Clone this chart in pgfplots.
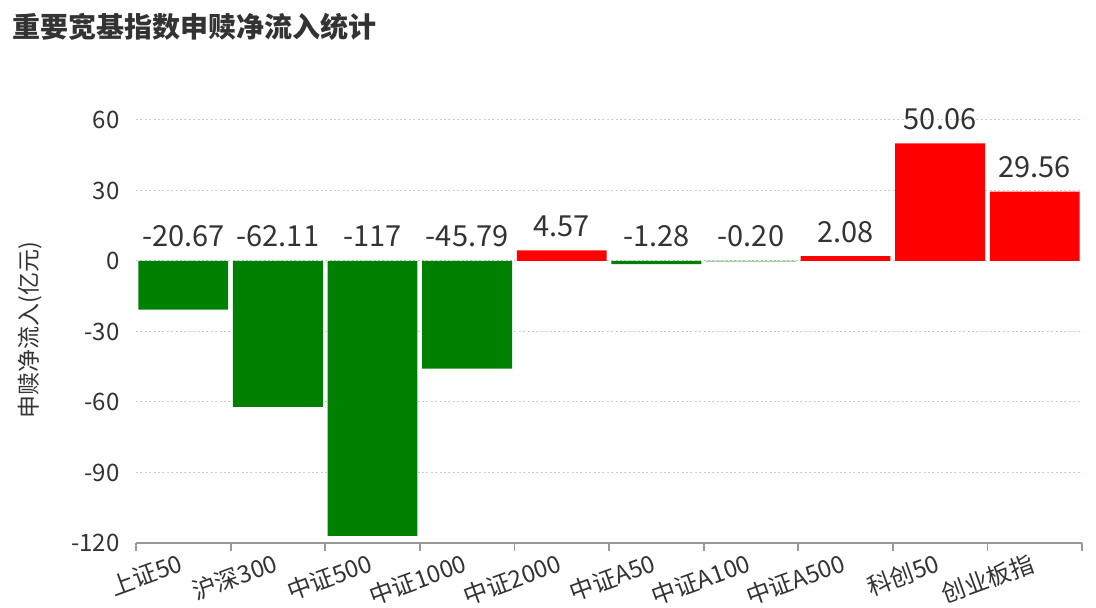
\documentclass[border=0pt]{standalone}
\usepackage{pgfplots}
\pgfplotsset{compat=1.18}
\usepackage{pgfplotstable}
\usepackage{fontspec}
\setmainfont{Noto Sans CJK SC}
\definecolor{txt}{HTML}{333333}
\definecolor{axgray}{HTML}{999999}
\definecolor{gridgray}{HTML}{CCCCCC}
\definecolor{barg}{HTML}{008000}
\definecolor{barr}{HTML}{FF0000}

\pgfplotstableread{
x pos lab
0 0 -20.67
1 0 -62.11
2 0 -117
3 0 -45.79
4 4.57 4.57
5 0 -1.28
6 0 -0.20
7 2.08 2.08
8 50.06 50.06
9 29.56 29.56
}\labels

\begin{document}
\begin{tikzpicture}
\useasboundingbox (-68pt,-32.5pt) rectangle (480pt,271.5pt);
\begin{axis}[
  at={(0,0)}, anchor=south west,
  scale only axis, width=473pt, height=211.5pt,
  xmin=-0.5, xmax=9.5, ymin=-120, ymax=60,
  clip=false,
  axis x line*=bottom,
  axis y line*=left,
  y axis line style={draw=none},
  x axis line style={axgray, line width=0.9pt},
  xtick={0,...,9},
  xticklabels={上证50,沪深300,中证500,中证1000,中证2000,中证A50,中证A100,中证A500,科创50,创业板指},
  major x tick style={draw=none},
  minor xtick={-0.5,0.5,...,9.5},
  minor x tick style={axgray, line width=0.9pt},
  minor tick length=4pt,
  tick align=outside,
  ytick={-120,-90,-60,-30,0,30,60},
  yticklabels={-120,-90,-60,-30,0,30,60},
  major y tick style={draw=none},
  major tick length=0pt,
  ymajorgrids,
  grid style={gridgray, line width=0.5pt, dash pattern=on 1pt off 1.2pt},
  yticklabel style={font=\fontsize{12}{14}\selectfont, text=txt, anchor=east, inner sep=0pt, xshift=-8pt},
  xticklabel style={font=\fontsize{12}{14}\selectfont, text=txt, rotate=20, anchor=north east, inner sep=0pt, yshift=-3pt, xshift=-4pt},
]
\addplot[ybar, bar width=0.95, bar shift=0pt, fill=barg, draw=none]
  coordinates {(0,-20.67) (1,-62.11) (2,-117) (3,-45.79) (5,-1.28) (6,-0.20)};
\addplot[ybar, bar width=0.95, bar shift=0pt, fill=barr, draw=none]
  coordinates {(4,4.57) (7,2.08) (8,50.06) (9,29.56)};
\addplot[draw=none, mark=none, nodes near coords, point meta=explicit symbolic,
  nodes near coords style={anchor=base, yshift=7pt, font=\fontsize{14.5}{17}\selectfont, text=txt}]
  table[x=x, y=pos, meta=lab] {\labels};
\end{axis}
\node[anchor=west, inner sep=0pt, font=\bfseries\fontsize{14}{16}\selectfont, text=txt] at (-62pt,258pt) {重要宽基指数申赎净流入统计};
\node[rotate=90, font=\fontsize{11.5}{13}\selectfont, text=txt] at (-53pt,106.5pt) {申赎净流入(亿元)};
\end{tikzpicture}
\end{document}
